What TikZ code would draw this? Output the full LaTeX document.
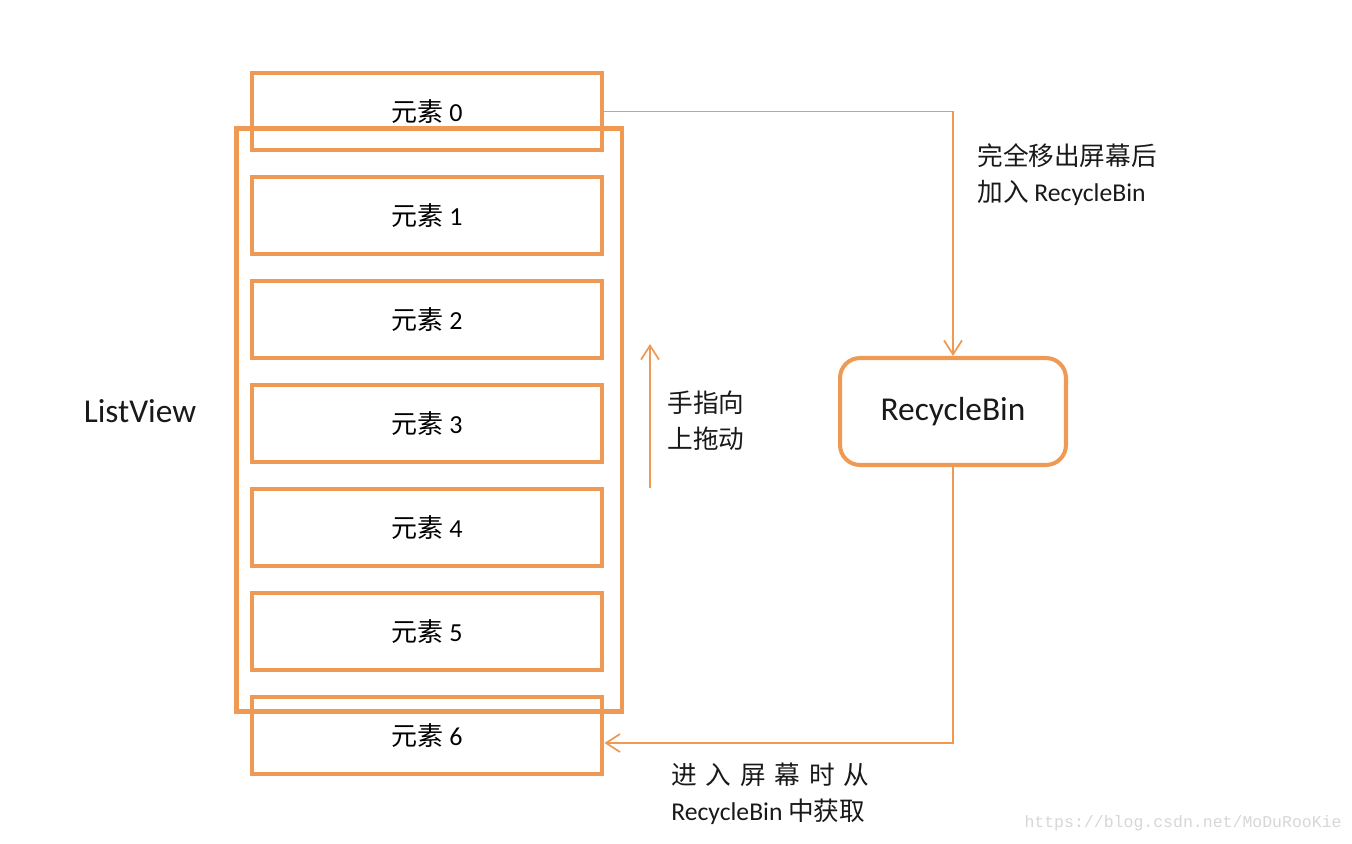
\documentclass[tikz,border=0pt]{standalone}
\usepackage{fontspec}
\setmainfont{Carlito}
\newfontfamily\cjk{Noto Sans CJK SC}
\newfontfamily\marca{Liberation Mono}
\usepackage{xcolor}
\usetikzlibrary{positioning, arrows.meta}
\definecolor{binorange}{RGB}{239,154,84}
\definecolor{marcagris}{RGB}{214,214,214}
\tikzset{
    elem/.style={draw=binorange, line width=2.8pt, minimum width=7cm, minimum height=1.54cm,
        inner sep=0pt, font=\fontsize{14.8}{16}\selectfont},
    flecha/.style={draw=binorange, line width=1pt, -{Straight Barb[length=0.28cm,width=0.36cm]}},
    nota/.style={anchor=west, align=left, inner sep=0pt, text=black!90, font=\fontsize{14.6}{20.4}\selectfont}
}

\begin{document}
\begin{tikzpicture}[x=0.02cm, y=-0.02cm]
        \useasboundingbox (0,0) rectangle (1352,844);
        % Marco de la ListView
        \node[draw=binorange, line width=2.8pt, minimum width=7.72cm, minimum height=11.68cm] (lv) at (429,420) {};
        \node[font=\fontsize{19}{20}\selectfont, text=black!90] (lvname) at (140,411) {ListView};
        % Elementos de la lista
        \foreach \i in {0,...,6} {
            \node[elem] (e\i) at (427,{111.5+104*\i}) {{\cjk 元素} \i};
        }
        % RecycleBin
        \node[draw=binorange, line width=2.3pt, rounded corners=0.4cm, minimum width=4.52cm,
            minimum height=2.14cm, font=\fontsize{19}{20}\selectfont, text=black!90] (bin) at (953,411.5) {RecycleBin};
        % Conectores
        \draw[flecha] (e0.east) -| (bin.north);
        \draw[flecha] (bin.south) |- ([yshift=-0.15cm]e6.east);
        \coordinate (d0) at (650,488);
        \coordinate (d1) at (650,344);
        \draw[flecha] (d0) -- (d1);
        % Textos
        \node[nota] (salida) at (977,175) {{\cjk 完全移出屏幕后}\\{\cjk 加入} RecycleBin};
        \node[nota] (dedo) at (667,420.5) {{\cjk 手指向}\\{\cjk 上拖动}};
        \node[nota] (entrada) at (671,794) {{\cjk 进\hspace{5pt}入\hspace{5pt}屏\hspace{5pt}幕\hspace{5pt}时\hspace{5pt}从}\\RecycleBin {\cjk 中获取}};
        \node[anchor=east, inner sep=0pt, text=marcagris, font=\marca\fontsize{9.4}{10}\selectfont] (url) at (1342,823) {https://blog.csdn.net/MoDuRooKie};
    \end{tikzpicture}
\end{document}
